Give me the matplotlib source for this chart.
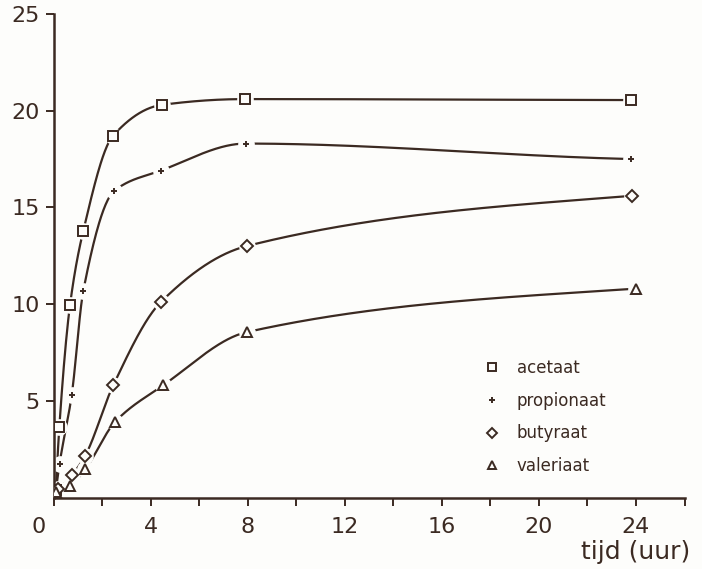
import numpy as np
import matplotlib
matplotlib.use('Agg')
import matplotlib.pyplot as plt
import matplotlib.transforms as mtransforms

# waarden
t_acetaat = [0.1, 0.24, 0.68, 1.23, 2.45, 4.46, 7.89, 23.8]
acetaat = [0.4, 3.65, 9.95, 13.8, 18.7, 20.3, 20.6, 20.55]

t_propionaat = [0.1, 0.25, 0.75, 1.23, 2.5, 4.42, 7.92, 23.8]
propionaat = [0.4, 1.75, 5.3, 10.7, 15.85, 16.9, 18.3, 17.5]

t_butyraat = [0.2, 0.75, 1.3, 2.46, 4.42, 7.96, 23.85]
butyraat = [0.45, 1.15, 2.15, 5.8, 10.1, 13.0, 15.6]

t_valeriaat = [0.1, 0.68, 1.3, 2.53, 4.52, 7.96, 24.0]
valeriaat = [0.3, 0.6, 1.45, 3.9, 5.8, 8.55, 10.8]

x_ticks = list(range(0, 27, 2))
x_labels = ['0', '', '4', '', '8', '', '12', '', '16', '', '20', '', '24', '']
y_ticks = [5, 10, 15, 20, 25]

INK = '#3b2a22'
BG = '#fdfdfb'


def smooth(x, y, xs):
    # monotone kromme door de meetpunten (alleen voor het tekenen van de lijn)
    x = np.asarray(x, float)
    y = np.asarray(y, float)
    h = np.diff(x)
    d = np.diff(y) / h
    n = len(x)
    m = np.zeros(n)
    for k in range(1, n - 1):
        if d[k - 1] * d[k] > 0:
            w1 = 2 * h[k] + h[k - 1]
            w2 = h[k] + 2 * h[k - 1]
            m[k] = (w1 + w2) / (w1 / d[k - 1] + w2 / d[k])
    m[0] = ((2 * h[0] + h[1]) * d[0] - h[0] * d[1]) / (h[0] + h[1])
    if np.sign(m[0]) != np.sign(d[0]):
        m[0] = 0
    m[-1] = 0.6 * d[-1]
    idx = np.clip(np.searchsorted(x, xs) - 1, 0, n - 2)
    s = (xs - x[idx]) / h[idx]
    h00 = 2 * s**3 - 3 * s**2 + 1
    h10 = s**3 - 2 * s**2 + s
    h01 = -2 * s**3 + 3 * s**2
    h11 = s**3 - s**2
    return h00 * y[idx] + h10 * h[idx] * m[idx] + h01 * y[idx + 1] + h11 * h[idx] * m[idx + 1]


plt.rcParams['font.family'] = ['DejaVu Sans']

fig = plt.figure(figsize=(7.02, 5.69), dpi=100)
fig.patch.set_facecolor(BG)
ax = fig.add_axes([53.5 / 702, 71.5 / 569, 631 / 702, (497.5 - 14) / 569])
ax.set_facecolor('none')

series = [
    (t_acetaat, acetaat, 's', 7, 'acetaat'),
    (t_propionaat, propionaat, '+', 5, 'propionaat'),
    (t_butyraat, butyraat, 'D', 6.5, 'butyraat'),
    (t_valeriaat, valeriaat, '^', 7, 'valeriaat'),
]

handles = []
for tx, ty, mk, ms, lab in series:
    xs = np.linspace(tx[0], tx[-1], 800)
    ax.plot(xs, smooth(tx, ty, xs), color=INK, lw=1.6, zorder=2)
    # witte vlek rond elk punt: onderbroken lijn zoals in de tekening
    ax.plot(tx, ty, 'o', ms=12, color=BG, mec='none', zorder=3)
    h, = ax.plot(tx, ty, mk, ms=ms, mfc=BG, mec=INK, mew=1.4,
                 color=INK, ls='none', zorder=4, label=lab)
    handles.append(h)

ax.set_xlim(0, 26)
ax.set_ylim(0, 25)
ax.spines['top'].set_visible(False)
ax.spines['right'].set_visible(False)
for s in ['left', 'bottom']:
    ax.spines[s].set_color(INK)
    ax.spines[s].set_linewidth(1.8)
    ax.spines[s].set_zorder(3.5)

ax.set_xticks(x_ticks)
ax.set_xticklabels(x_labels)
ax.set_yticks(y_ticks)
ax.tick_params(axis='both', direction='out', length=6, width=1.4, colors=INK,
               labelsize=16, labelcolor=INK)
ax.tick_params(axis='x', pad=8)
ax.tick_params(axis='y', pad=4)

# de 0 staat links van de oorsprong
lab0 = ax.get_xticklabels()[0]
lab0.set_transform(lab0.get_transform() + mtransforms.ScaledTranslation(-15 / 100, 0, fig.dpi_scale_trans))

leg = ax.legend(handles=handles, loc='upper left', bbox_to_anchor=(470 / 702, 1 - 344 / 569),
                bbox_transform=fig.transFigure, frameon=False, handlelength=0.8,
                handletextpad=1.1, labelspacing=0.88, fontsize=12, markerscale=0.8)
for txt in leg.get_texts():
    txt.set_color(INK)

fig.text(690 / 702, 1 - 552 / 569, 'tijd (uur)', ha='right', va='center',
         fontsize=18, color=INK)

fig.savefig('out.png', dpi=100, facecolor=fig.get_facecolor())
